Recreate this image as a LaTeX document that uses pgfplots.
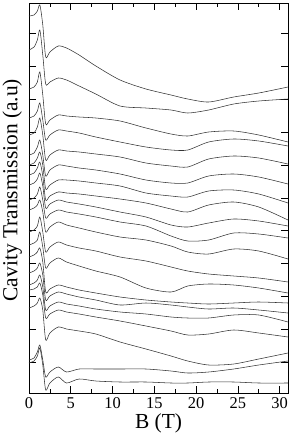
\documentclass[border=0pt]{standalone}
\usepackage{pgfplots}
\pgfplotsset{compat=1.18}
\usepackage{pgfplotstable}
\usepackage{fontspec}
\setmainfont{Liberation Serif}

\pgfplotstableread{
B c1 c2 c3 c4 c5 c6 c7 c8 c9 c10 c11 c12 c13 c14 c15 c16 c17 c18 c19 c20
0 16 50 89 118 135 155 165 175 185 200 210 232 245 257 273 285 290 308 360 363
0.6 15 47 87 116 133 153 163 173 183 198 208 230 243 255 271 283 289 306 358 361
1.0 11 40 82 111 127 147 158 168 179 194 205 226 240 252 268 280 287 303 352 356
1.3 5 30 72 103 118 140 152 162 173 187 200 217 232 248 263 275 283 298 345 348
1.65 25 55 95 120 135 155 165 176 186 200 212 232 247 262 275 287 295 310 360 365
2.0 57 84 124 140 160 176 189 200 208 218 232 252 268 292 300 310 318 340 377 390
2.5 52 82 120 135 155 170 185 196 204 214 227 247 263 289 296 306 314 333 372 383
3.5 46 78 115 130 150 165 180 192 200 210 222 242 258 285 292 302 310 327 367 377
4.5 48 80 116 131 151 166 180 193 202 212 225 245 262 287 294 304 312 329 372 383
6 55 86 117 133 152 168 181 194 204 214 228 248 266 290 297 306 314 331 369 379
8 66 94 118 137 154 170 183 196 207 217 232 251 271 293 300 309 317 334 369 381
10.9 80 106 121 142 157 174 186 199 212 222 237 257 277 297 305 312 321 342 369 382
14 89 108 128 147 163 180 193 203 217 226 240 261 288 300 303 314 326 349 369 382
17 95 110 134 150 166 183 196 209 225 236 246 267 292 302 305 317 331 356 371 383
19 99 113 136 150 167 183 197 212 227 241 252 271 286 303 307 318 335 361 373 383
21.5 102 110 132 142 159 176 191 205 223 240 254 274 284 304 309 318 334 365 372 382
24.5 97 104 131 139 156 174 190 202 219 233 249 276 285 303 308 315 330 364 369 382
27.5 93 101 135 141 158 177 194 207 221 234 251 278 288 302 310 315 333 359 365 383
31 87 99 142 146 164 184 203 220 226 238 259 282 293 303 313 322 337 353 361 383
}\curves

\begin{document}
\begin{tikzpicture}
\useasboundingbox (-29bp,-43bp) rectangle (265bp,393bp);
\begin{axis}[
  scale only axis, width=259bp, height=390bp,
  at={(0,0)}, anchor=south west,
  xmin=0, xmax=31, ymin=3, ymax=393, y dir=reverse,
  xtick={0,5,...,30}, minor x tick num=1,
  ytick={33,66,99,132,165,198,230,263,296,329,362}, yticklabels={},
  tick align=inside, xtick pos=both, ytick pos=both, xticklabel pos=lower,
  major tick length=7bp, minor tick length=4bp,
  tick style={black, line width=0.6pt},
  axis line style={line width=0.8pt},
  /pgf/number format/assume math mode=true,
  ticklabel style={font=\fontsize{16.5}{18}\selectfont},
  xlabel={B (T)}, ylabel={Cavity Transmission (a.u)},
  every axis x label/.style={at={(axis description cs:0.5,-0.079)}, anchor=center, font=\fontsize{21.5}{24}\selectfont},
  every axis y label/.style={at={(axis description cs:-0.065,0.52)}, anchor=center, rotate=90, font=\fontsize{21.5}{24}\selectfont},
  xticklabel style={yshift=-1bp},
]
\pgfplotsinvokeforeach{1,...,20}{
  \addplot[black!80, line width=0.55pt, smooth, tension=0.45, no marks] table[x=B, y=c#1] {\curves};
}
\end{axis}
\end{tikzpicture}
\end{document}
